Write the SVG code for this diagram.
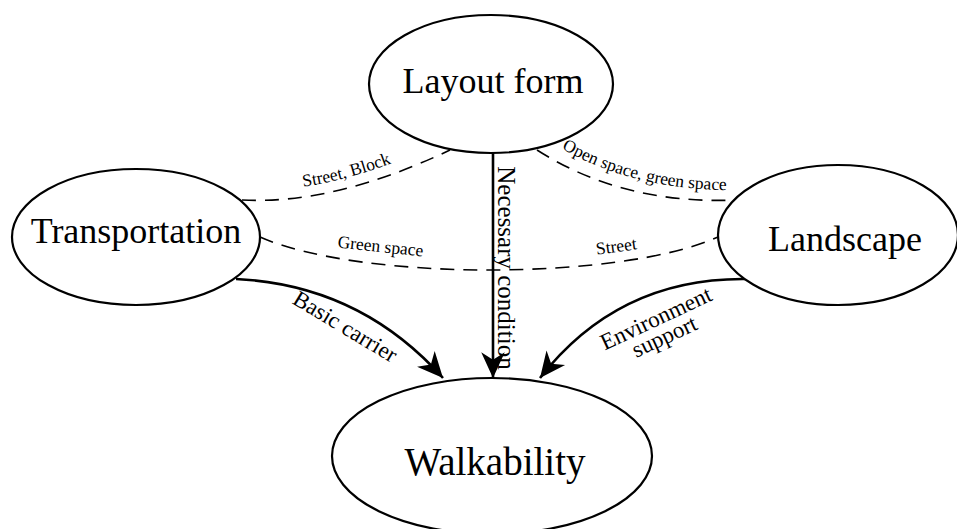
<svg xmlns="http://www.w3.org/2000/svg" width="957" height="529" viewBox="0 0 957 529">
  <defs>
    <style>
      .node ellipse { fill: #ffffff; stroke: #000000; stroke-width: 2.2; }
      .node text { font-family: "Liberation Serif", "Times New Roman", serif; fill: #000000; text-anchor: middle; }
      .dash { fill: none; stroke: #000000; stroke-width: 1.6; stroke-dasharray: 14 9; }
      .solid { fill: none; stroke: #000000; stroke-width: 2.6; marker-end: url(#head); }
      .lbl { font-family: "Liberation Serif", "Times New Roman", serif; fill: #000000; }
      .small { font-size: 17.5px; }
      .big { font-size: 23px; }
    </style>
    <marker id="head" markerUnits="userSpaceOnUse" markerWidth="30" markerHeight="30" refX="0" refY="0" viewBox="-26 -13 28 26" orient="auto">
      <path d="M0,0 L-24,-11 L-17,0 L-24,11 Z" fill="#000000"/>
    </marker>
    <path id="p-open" d="M546,139 Q628,193 745,190"/>
    <path id="p-block" d="M240,190 Q334,195 450,138"/>
  </defs>

  <g id="connectors">
    <!-- dashed relations between the three factors -->
    <path class="dash" d="M242,200 Q334,205 450,150"/>
    <path class="dash" d="M537,150 Q623,205 737,200"/>
    <path class="dash" d="M260,237 C360,281 620,281 718,237"/>
    <!-- solid arrows into walkability -->
    <path class="solid" d="M493,153 L493,378"/>
    <path class="solid" d="M236,279 Q360,285 443,378"/>
    <path class="solid" d="M745,279 Q618,278 540,378"/>

    <!-- labels -->
    <text class="lbl small"><textPath href="#p-block" startOffset="50%" text-anchor="middle">Street, Block</textPath></text>
    <text class="lbl small"><textPath href="#p-open" startOffset="50%" text-anchor="middle">Open space, green space</textPath></text>
    <text class="lbl small" text-anchor="middle" transform="translate(380,252) rotate(6)">Green space</text>
    <text class="lbl small" text-anchor="middle" transform="translate(617,252) rotate(-8)">Street</text>
    <text class="lbl" font-size="25" text-anchor="middle" transform="translate(498,268) rotate(90)">Necessary condition</text>
    <text class="lbl big" text-anchor="middle" transform="translate(345,327) rotate(31)" y="7">Basic carrier</text>
    <g transform="translate(660,327) rotate(-25)">
      <text class="lbl big" text-anchor="middle" y="-2">Environment</text>
      <text class="lbl big" text-anchor="middle" y="18">support</text>
    </g>
  </g>

  <g id="layout-form" class="node">
    <ellipse cx="491" cy="84" rx="122" ry="69"/>
    <text x="493" y="93" font-size="36">Layout form</text>
  </g>
  <g id="transportation" class="node">
    <ellipse cx="136" cy="237" rx="124" ry="68"/>
    <text x="136" y="243" font-size="36">Transportation</text>
  </g>
  <g id="landscape" class="node">
    <ellipse cx="838" cy="235" rx="120" ry="70"/>
    <text x="845" y="251" font-size="36">Landscape</text>
  </g>
  <g id="walkability" class="node">
    <ellipse cx="492" cy="456" rx="160" ry="78"/>
    <text x="495" y="475" font-size="39">Walkability</text>
  </g>
</svg>
